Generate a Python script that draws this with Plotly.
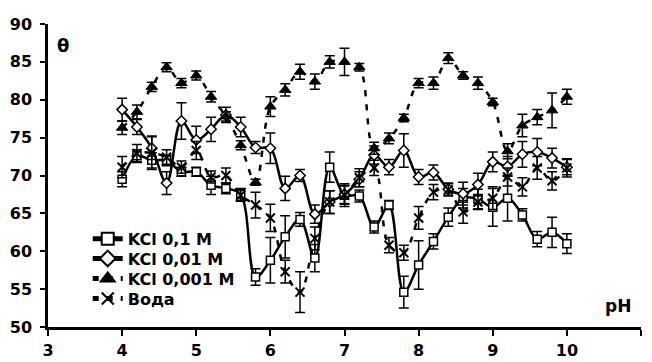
import plotly.graph_objects as go

ph = [4.0, 4.2, 4.4, 4.6, 4.8, 5.0, 5.2, 5.4, 5.6, 5.8, 6.0, 6.2, 6.4, 6.6, 6.8, 7.0,
      7.2, 7.4, 7.6, 7.8, 8.0, 8.2, 8.4, 8.6, 8.8, 9.0, 9.2, 9.4, 9.6, 9.8, 10.0]

kcl_01 = [69.5, 72.6, 72.0, 72.0, 70.5, 70.5, 68.7, 68.3, 67.5, 56.6, 58.8, 61.9, 64.2, 59.1, 71.1, 67.4,
          67.3, 63.2, 66.1, 54.6, 58.2, 61.3, 64.5, 67.0, 66.9, 65.8, 67.0, 64.8, 61.6, 62.5, 61.0]
kcl_01_err = [1.0, 0.8, 1.0, 0.7, 0.6, 0.6, 1.2, 0.7, 0.8, 1.1, 3.0, 2.8, 0.9, 1.8, 2.0, 1.2,
              0.8, 0.8, 0.6, 2.1, 3.2, 1.0, 1.2, 1.3, 1.3, 2.5, 3.0, 0.8, 1.0, 2.0, 1.3]

kcl_001 = [78.7, 76.4, 73.6, 69.0, 77.2, 74.7, 76.1, 78.0, 76.4, 73.7, 73.6, 68.3, 70.0, 64.9, 66.5, 67.5,
           69.5, 72.7, 71.1, 73.3, 69.8, 70.4, 68.2, 67.6, 68.8, 71.8, 71.2, 72.8, 73.1, 72.3, 71.1]
kcl_001_err = [1.5, 1.0, 1.5, 1.5, 2.4, 1.8, 1.6, 1.0, 1.3, 0.8, 2.0, 1.6, 0.8, 1.2, 1.5, 1.2,
               1.0, 1.2, 1.0, 2.2, 1.0, 1.0, 0.8, 1.5, 1.5, 1.3, 1.3, 1.7, 1.8, 1.3, 1.0]

kcl_0001 = [76.3, 78.4, 81.7, 84.3, 82.2, 83.2, 80.4, 77.8, 74.0, 69.1, 79.1, 81.3, 83.7, 82.4, 85.0, 85.0,
            84.3, 73.6, 74.9, 77.6, 82.2, 82.2, 85.5, 83.2, 82.2, 79.7, 73.2, 76.6, 77.7, 78.6, 80.4]
kcl_0001_err = [0.9, 0.9, 0.6, 0.6, 0.6, 0.6, 0.7, 0.6, 0.6, 0.4, 1.3, 0.8, 1.0, 1.0, 0.8, 1.8,
                0.5, 0.8, 0.7, 0.5, 0.6, 0.8, 0.7, 0.5, 0.8, 0.5, 1.0, 1.5, 1.0, 2.3, 1.0]

voda = [71.1, 72.9, 73.0, 72.4, 71.1, 73.3, 69.8, 70.0, 67.4, 66.1, 64.4, 57.3, 54.6, 61.7, 66.5, 67.4,
        69.7, 71.0, 60.8, 59.8, 64.4, 67.8, 68.1, 65.2, 66.5, 67.0, 69.8, 68.5, 71.0, 69.3, 71.0]
voda_err = [1.4, 1.2, 2.2, 1.0, 0.8, 1.2, 0.8, 1.0, 0.8, 1.7, 1.8, 1.5, 2.7, 1.5, 1.5, 1.5,
            1.2, 1.0, 1.0, 1.0, 1.5, 1.0, 0.8, 1.5, 1.0, 1.5, 1.2, 1.2, 1.5, 1.2, 1.2]

names = ["KCl 0,1 M", "KCl 0,01 M", "KCl 0,001 M", "Вода"]
x_ticks = [3, 4, 5, 6, 7, 8, 9, 10, 11]
y_ticks = [50, 55, 60, 65, 70, 75, 80, 85, 90]

FONT = "DejaVu Sans"
legend_ids = ["legend", "legend2", "legend3", "legend4"]
legend_rows = [0.291, 0.226, 0.160, 0.094]

fig = go.Figure()

def add(i, y, err, symbol, size, dash, mcolor, mlw):
    fig.add_trace(go.Scatter(
        x=ph, y=y, name=names[i], mode="lines+markers", legend=legend_ids[i],
        line=dict(color="black", width=2.5, dash=dash, shape="spline", smoothing=1.0),
        marker=dict(symbol=symbol, size=size, color=mcolor,
                    line=dict(color="black", width=mlw)),
        error_y=dict(type="data", array=err, visible=True, color="black",
                     thickness=1.5, width=5),
    ))

add(0, kcl_01, kcl_01_err, "square", 8, "solid", "white", 1.5)
add(1, kcl_001, kcl_001_err, "diamond", 8, "solid", "white", 1.5)
add(2, kcl_0001, kcl_0001_err, "triangle-up", 10, "6px,8px", "black", 1.0)
add(3, voda, voda_err, "x-thin-open", 9, "6px,8px", "black", 2.0)

legend_style = dict(x=0.067, xanchor="left", yanchor="middle",
                    bgcolor="rgba(0,0,0,0)", borderwidth=0,
                    font=dict(family=FONT, size=16, color="black", weight="bold"),
                    itemsizing="constant")

# The page body has an 8px default margin, so the figure is sized 8px smaller
fig.update_layout(
    width=644, height=354,
    margin=dict(l=40, r=11, t=16, b=35, autoexpand=False),
    paper_bgcolor="white", plot_bgcolor="white",
    font=dict(family=FONT, size=16, color="black", weight="bold"),
    showlegend=True,
    legend=dict(y=legend_rows[0], **legend_style),
    legend2=dict(y=legend_rows[1], **legend_style),
    legend3=dict(y=legend_rows[2], **legend_style),
    legend4=dict(y=legend_rows[3], **legend_style),
    xaxis=dict(range=[3, 11], tickvals=x_ticks, ticktext=[str(v) for v in x_ticks],
               showgrid=False, zeroline=False, showline=True, linecolor="black", linewidth=2.5,
               ticks="outside", ticklen=6, tickwidth=2, tickcolor="black", automargin=False,
               tickfont=dict(family=FONT, size=16, color="black", weight="bold"),
               ticklabelstandoff=1),
    yaxis=dict(range=[50, 90], tickvals=y_ticks, ticktext=[str(v) for v in y_ticks],
               showgrid=False, zeroline=False, showline=True, linecolor="black", linewidth=2.5,
               ticks="outside", ticklen=5, tickwidth=2, tickcolor="black", automargin=False,
               tickfont=dict(family=FONT, size=16, color="black", weight="bold"),
               ticklabelstandoff=5),
    annotations=[
        dict(text="θ", xref="paper", yref="paper", x=0.025, y=0.93, showarrow=False,
             xanchor="center", yanchor="middle",
             font=dict(family=FONT, size=18, color="black", weight="bold")),
        dict(text="pH", xref="paper", yref="paper", x=0.961, y=0.07, showarrow=False,
             xanchor="center", yanchor="middle",
             font=dict(family=FONT, size=17, color="black", weight="bold")),
    ],
)

fig.write_html("out.html")
